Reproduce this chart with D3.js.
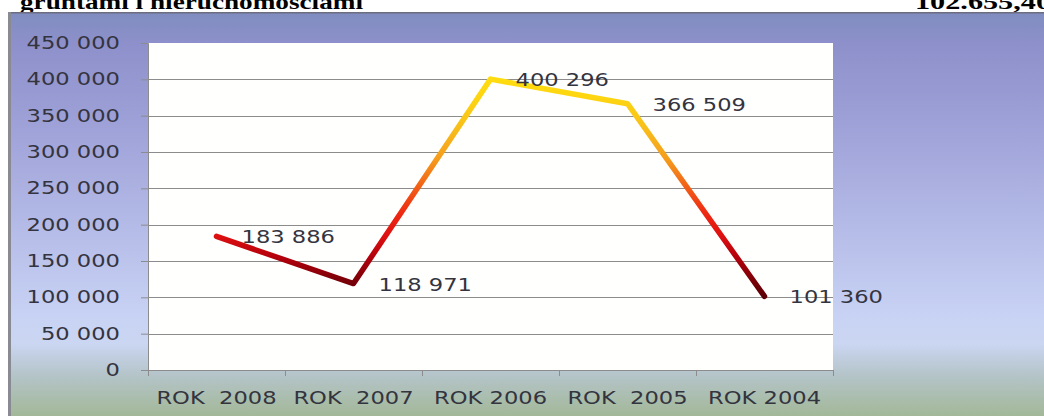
<!DOCTYPE html>
<html>
<head>
<meta charset="utf-8">
<script src="https://cdn.jsdelivr.net/npm/d3@7/dist/d3.min.js"></script>
<style>
html,body{margin:0;padding:0;background:#fff;overflow:hidden;}
svg{display:block;}
</style>
</head>
<body>
<svg id="chart" width="1044" height="416"></svg>
<script>
const categories = ["ROK  2008", "ROK  2007", "ROK 2006", "ROK  2005", "ROK 2004"];
const values = [183886, 118971, 400296, 366509, 101360];
const valueLabels = ["183 886", "118 971", "400 296", "366 509", "101 360"];
const yTicks = [0, 50000, 100000, 150000, 200000, 250000, 300000, 350000, 400000, 450000];
const titleLeft = "gruntami i nieruchomościami";
const titleRight = "102.655,40";

const svg = d3.select("#chart");
const W = 1044, H = 416;
const plot = {left: 148, right: 833, top: 43, bottom: 370};
const SX = 1.33;
const FONT = "DejaVu Sans";

const defs = svg.append("defs");
const bg = defs.append("linearGradient").attr("id","bg").attr("x1",0).attr("y1",0).attr("x2",0).attr("y2",1);
[[0,"#7f8dbf"],[0.08,"#8e90cb"],[0.35,"#a4a8dc"],[0.75,"#c8d2f4"],[0.82,"#cbd6f2"],[0.9,"#b4c4c8"],[1,"#a2b898"]]
  .forEach(([o,c]) => bg.append("stop").attr("offset",o).attr("stop-color",c));

svg.append("rect").attr("x",0).attr("y",0).attr("width",W).attr("height",H).attr("fill","#fff");

// title lines (cut off at the top, as in the source)
svg.append("text").attr("x",20).attr("y",9)
  .attr("font-family","Liberation Serif").attr("font-weight","bold").attr("font-size",22)
  .attr("textLength",343).attr("lengthAdjust","spacingAndGlyphs")
  .attr("fill","#000").text(titleLeft);
svg.append("text").attr("x",915).attr("y",9)
  .attr("font-family","Liberation Serif").attr("font-weight","bold").attr("font-size",22)
  .attr("textLength",136).attr("lengthAdjust","spacingAndGlyphs")
  .attr("fill","#000").text(titleRight);

// panel
svg.append("rect").attr("x",8).attr("y",12).attr("width",W-8).attr("height",H-12).attr("fill","url(#bg)");
svg.append("rect").attr("x",8).attr("y",12).attr("width",W-8).attr("height",1.5).attr("fill","#6d6d80");
svg.append("rect").attr("x",8).attr("y",12).attr("width",3).attr("height",H-12).attr("fill","#8a8a92");

const x = d3.scaleBand().domain(categories).range([plot.left, plot.right]).padding(0);
const y = d3.scaleLinear().domain([0, 450000]).range([plot.bottom, plot.top]);

svg.append("rect").attr("x",plot.left).attr("y",plot.top)
  .attr("width",plot.right-plot.left).attr("height",plot.bottom-plot.top).attr("fill","#fffffd");

svg.append("g").selectAll("line").data(yTicks.filter(d=>d>0 && d<450000)).join("line")
  .attr("x1",plot.left).attr("x2",plot.right)
  .attr("y1",d=>Math.round(y(d))+0.5).attr("y2",d=>Math.round(y(d))+0.5)
  .attr("stroke","#8c8c8c").attr("stroke-width",1);

const yAxis = svg.append("g").attr("transform",`translate(${plot.left},0)`)
  .call(d3.axisLeft(y).tickValues(yTicks).tickSize(7).tickPadding(0).tickFormat(()=>""));
yAxis.select(".domain").attr("stroke","#8c8c8c");
yAxis.selectAll(".tick line").attr("stroke","#8c8c8c");
svg.append("g").selectAll("text").data(yTicks).join("text")
  .attr("transform",d=>`translate(120,${y(d)+6}) scale(${SX},1)`)
  .attr("text-anchor","end").attr("font-family",FONT).attr("font-size",17).attr("fill","#34343f")
  .text(d=>d3.format(",")(d).replace(/,/g," "));

const xAxis = svg.append("g").attr("transform",`translate(0,${plot.bottom})`)
  .call(d3.axisBottom(d3.scaleLinear().domain([0,5]).range([plot.left,plot.right]))
    .tickValues([0,1,2,3,4,5]).tickSize(6).tickFormat(()=>""));
xAxis.select(".domain").attr("stroke","#8c8c8c");
xAxis.selectAll(".tick line").attr("stroke","#8c8c8c");
svg.append("g").selectAll("text").data(categories).join("text")
  .attr("transform",d=>`translate(${x(d)+x.bandwidth()/2},404) scale(${SX},1)`)
  .attr("text-anchor","middle").attr("font-family",FONT).attr("font-size",17).attr("fill","#34343f")
  .style("white-space","pre").attr("xml:space","preserve")
  .text(d=>d);

const lg = defs.append("linearGradient").attr("id","lineGrad").attr("gradientUnits","userSpaceOnUse")
  .attr("x1",0).attr("x2",0).attr("y1",y(100000)).attr("y2",y(400000));
[[100000,"#5a0006"],[125000,"#7e0008"],[155000,"#b3000c"],[185000,"#de1010"],[215000,"#ee2812"],
 [250000,"#f25c16"],[290000,"#f59c1c"],[335000,"#f8c01a"],[375000,"#fdd510"],[400000,"#ffdc10"]]
  .forEach(([v,c]) => lg.append("stop").attr("offset",(v-100000)/300000).attr("stop-color",c));

const pts = categories.map((c,i)=>[x(c)+x.bandwidth()/2, y(values[i])]);
svg.append("path").datum(pts)
  .attr("d", d3.line())
  .attr("fill","none").attr("stroke","url(#lineGrad)").attr("stroke-width",5.5)
  .attr("stroke-linejoin","round").attr("stroke-linecap","round");

svg.append("g").selectAll("text").data(values).join("text")
  .attr("transform",(d,i)=>`translate(${x(categories[i])+x.bandwidth()/2+25},${y(d)+7}) scale(${SX},1)`)
  .attr("font-family",FONT).attr("font-size",17).attr("fill","#34343f")
  .text((d,i)=>valueLabels[i]);
</script>
</body>
</html>
